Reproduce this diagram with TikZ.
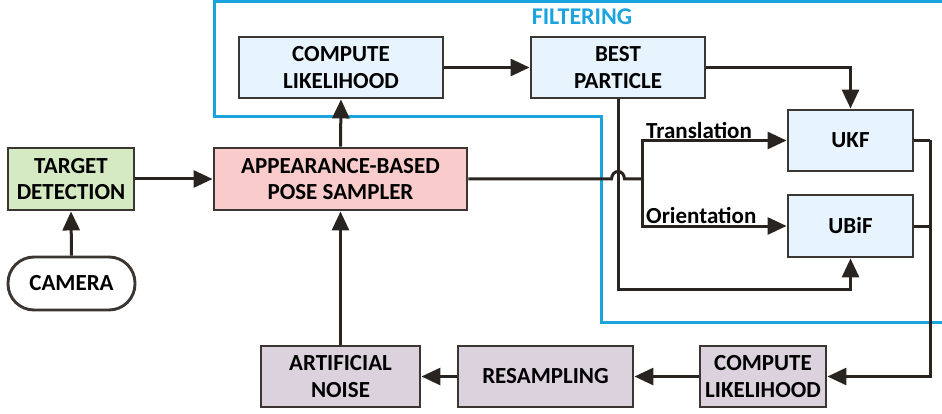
\documentclass[tikz,border=0pt]{standalone}
\usepackage{fontspec}
\setmainfont{Carlito}
\usetikzlibrary{arrows.meta}

\definecolor{lineink}{HTML}{2A2420}
\definecolor{boxedge}{HTML}{3C3632}
\definecolor{filterblue}{HTML}{1AA3DD}
\definecolor{fillblue}{HTML}{E8F4FD}
\definecolor{fillpink}{HTML}{F9CBCB}
\definecolor{fillgreen}{HTML}{D5E9C3}
\definecolor{fillmauve}{HTML}{DCD2DE}

\newcommand\blockfont{\fontsize{23}{26.5}\selectfont\bfseries}

\begin{document}
\begin{tikzpicture}[x=1pt, y=-1pt,
  block/.style={draw=boxedge, line width=2.9pt, inner sep=0pt, align=center,
                font=\blockfont, text=black},
  filterbox/.style={block, fill=fillblue},
  samplerbox/.style={block, fill=fillpink},
  detectbox/.style={block, fill=fillgreen},
  resamplebox/.style={block, fill=fillmauve},
  flow/.style={draw=lineink, line width=3pt},
  arrowflow/.style={flow, -{Triangle[length=19pt, width=17pt]}},
  branchlabel/.style={font=\blockfont, text=black, inner sep=0pt},
]
\useasboundingbox (0,0) rectangle (942,414);

% region of the filtering stage
\draw[filterblue, line width=3pt] (946,2) -- (214,2) -- (214,117) -- (601,117)
  -- (601,322) -- (946,322);
\node[font=\fontsize{24}{28}\selectfont\bfseries, text=filterblue, inner sep=0pt,
  anchor=base] (filtering) at (582,24.5) {FILTERING};

% blocks
\node[filterbox, minimum width=204, minimum height=61] (cl1) at (341,67.5)
  {COMPUTE\\LIKELIHOOD};
\node[filterbox, minimum width=174, minimum height=61] (bp) at (618,67.5)
  {BEST\\PARTICLE};
\node[filterbox, minimum width=125, minimum height=61] (ukf) at (850.5,140.5) {UKF};
\node[filterbox, minimum width=125, minimum height=62] (ubif) at (850.5,226) {UBiF};

\node[samplerbox, minimum width=253, minimum height=62] (app) at (340.5,179)
  {APPEARANCE-BASED\\POSE SAMPLER};
\node[detectbox, minimum width=126, minimum height=62] (td) at (71,179)
  {TARGET\\DETECTION};
\node[block, fill=white, minimum width=127, minimum height=53,
  rounded corners=26pt] (cam) at (71.5,283.5) {CAMERA};

\node[resamplebox, minimum width=159, minimum height=61] (an) at (340.5,376.5)
  {ARTIFICIAL\\NOISE};
\node[resamplebox, minimum width=175, minimum height=61] (res) at (545.5,376.5)
  {RESAMPLING};
\node[resamplebox, minimum width=126, minimum height=61] (cl2) at (763,376.5)
  {COMPUTE\\LIKELIHOOD};

% junction points
\coordinate (split) at (642,179);
\coordinate (hopin) at (611.5,179);
\coordinate (hopout) at (624.5,179);
\coordinate (merge) at (930,140.5);

% connectors
\draw[arrowflow] (cam.north) -- (td.south);
\draw[arrowflow] (td.east) -- (app.west);
\draw[arrowflow] (app.north) -- (cl1.south);
\draw[arrowflow] (cl1.east) -- (bp.west);
\draw[arrowflow] (bp.east) -| (ukf.north);
\draw[flow] (app.east) -- (hopin) .. controls ++(0.5,-10) and ++(-0.5,-10) .. (hopout) -- (split);
\draw[arrowflow] (split) |- (ukf.west);
\draw[arrowflow] (split) |- (ubif.west);
\draw[arrowflow] (bp.south) -- (bp.south |- 0,289) -| (ubif.south);
\draw[flow] (ukf.east) -- (merge);
\draw[flow] (ubif.east) -- (ubif.east -| merge);
\draw[arrowflow] (merge) |- (cl2.east);
\draw[arrowflow] (cl2.west) -- (res.east);
\draw[arrowflow] (res.west) -- (an.east);
\draw[arrowflow] (an.north) -- (app.south);

% branch labels
\node[branchlabel, anchor=base west] (trans) at (646,139) {Translation};
\node[branchlabel, anchor=base west] (orient) at (646,223) {Orientation};
\end{tikzpicture}
\end{document}
